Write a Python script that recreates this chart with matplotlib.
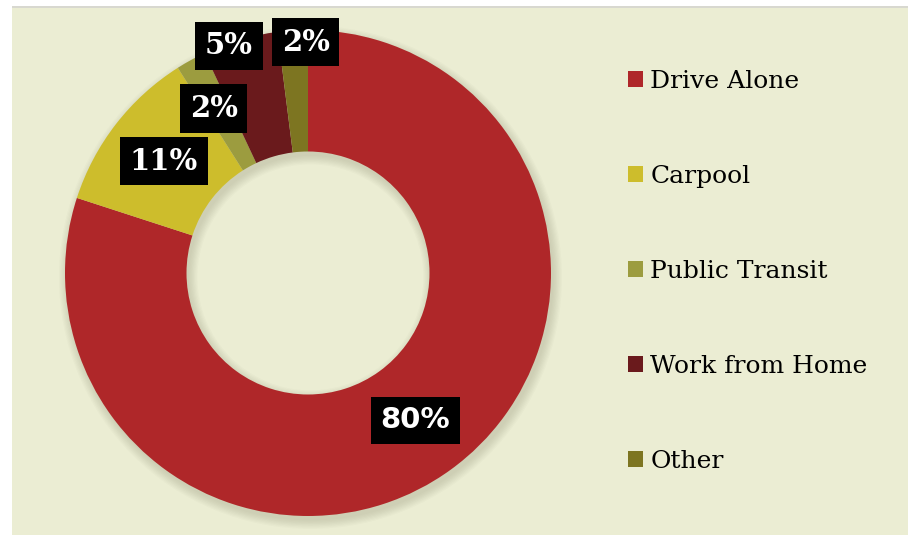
import matplotlib
matplotlib.use("Agg")
import matplotlib.pyplot as plt
import numpy as np
from matplotlib.patches import Rectangle, Wedge

# Commute mode share (percent)
modes = ["Drive Alone", "Carpool", "Public Transit", "Work from Home", "Other"]
shares = [80, 11, 2, 5, 2]
colors = ["#AF2729", "#CDBD2C", "#9C9C3F", "#6A1A1C", "#7D7521"]

# label radius (fraction of outer radius) and angle nudge in degrees
label_r = [0.75, 0.75, 0.78, 0.99, 0.95]
label_nudge = [0, 0, 1, 3, -3]

BG = "#EBEDD3"

fig = plt.figure(figsize=(9.15, 5.35), dpi=100, facecolor="white")
fig.patches.append(Rectangle((12 / 915, 0), 896 / 915, 527 / 535,
                             transform=fig.transFigure, facecolor=BG,
                             edgecolor="none", zorder=-2))
fig.patches.append(Rectangle((12 / 915, 527 / 535), 896 / 915, 1.5 / 535,
                             transform=fig.transFigure, facecolor="#D8D8D0",
                             edgecolor="none", zorder=-2))

ax = fig.add_axes([65 / 915, 19 / 535, 486 / 915, 486 / 535])

# soft drop shadow behind the ring
for i in range(8):
    ax.add_patch(Wedge((0.01, -0.018), 1.0 + 0.005 * i, 0, 360,
                       width=0.5 + 0.01 * i, facecolor="#6B6B50",
                       alpha=0.028, edgecolor="none", zorder=0,
                       clip_on=False))

wedges, _ = ax.pie(shares, colors=colors, startangle=90, counterclock=False,
                   radius=1.0, wedgeprops=dict(width=0.5, edgecolor="none"),
                   normalize=True)
for w in wedges:
    w.set_zorder(2)
ax.set_xlim(-1, 1)
ax.set_ylim(-1, 1)
ax.axis("off")

for w, val, r, nudge in zip(wedges, shares, label_r, label_nudge):
    mid = np.deg2rad((w.theta1 + w.theta2) / 2 + nudge)
    fam = "DejaVu Sans" if val == 80 else "DejaVu Serif"
    ax.text(r * np.cos(mid), r * np.sin(mid), f"{val}%", ha="center",
            va="center", color="white", fontsize=21, fontweight="bold",
            family=fam, zorder=5,
            bbox=dict(boxstyle="square,pad=0.33", facecolor="black",
                      edgecolor="none"))

leg = fig.legend(wedges, modes, loc="upper left",
                 bbox_to_anchor=(628 / 915, 1 - 70 / 535),
                 frameon=False, prop={"family": "DejaVu Serif", "size": 18},
                 handlelength=0.6, handleheight=0.6, handletextpad=0.3,
                 labelspacing=2.88, borderpad=0, borderaxespad=0)

fig.savefig("out.png", dpi=100, facecolor="white")
